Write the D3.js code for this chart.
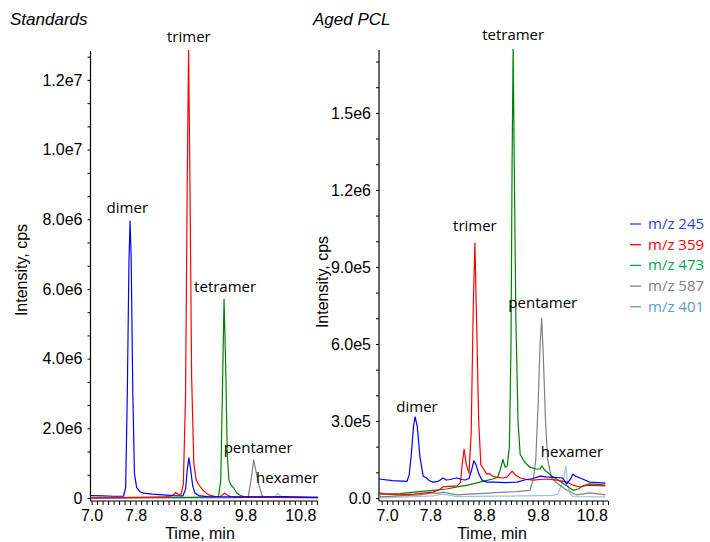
<!DOCTYPE html>
<html>
<head>
<meta charset="utf-8">
<script src="https://cdn.jsdelivr.net/npm/d3@7"></script>
<style>
  html, body { margin: 0; padding: 0; background: #fff; }
  svg { display: block; }
  .tick text { font-family: "Liberation Sans", Arial, sans-serif; font-size: 16px; fill: #000; }
</style>
</head>
<body>
<svg id="chart" width="710" height="542"></svg>
<script>
// ---- Extracted-ion chromatograms: retention time (min) vs intensity (cps) ----

const seriesNames = ["m/z 245", "m/z 359", "m/z 473", "m/z 587", "m/z 401"];
const lineColors  = ["#0000ff", "#ff0000", "#008000", "#808080", "#9dc3e6"];
const legendColors = ["#1f45d2", "#ff0000", "#00a650", "#7f7f7f", "#5b9bd5"];

const timeTicks = [7.0, 7.8, 8.8, 9.8, 10.8];

// Standards panel (intensity in cps)
const stdTicks = [0, 2e6, 4e6, 6e6, 8e6, 1e7, 1.2e7];
const stdTickLabels = ["0", "2.0e6", "4.0e6", "6.0e6", "8.0e6", "1.0e7", "1.2e7"];

const std245 = [[6.98,0.07e6],[7.2,0.06e6],[7.4,0.05e6],[7.58,0.05e6],[7.62,0.3e6],[7.65,3.0e6],[7.68,6.8e6],[7.70,7.95e6],[7.72,6.9e6],[7.75,3.0e6],[7.78,0.7e6],[7.82,0.3e6],[7.88,0.18e6],[7.95,0.14e6],[8.1,0.11e6],[8.3,0.09e6],[8.5,0.07e6],[8.66,0.06e6],[8.71,0.25e6],[8.74,0.8e6],[8.77,1.15e6],[8.80,0.85e6],[8.84,0.35e6],[8.88,0.14e6],[8.95,0.07e6],[9.1,0.04e6],[9.5,0.03e6],[10.0,0.03e6],[10.5,0.04e6],[10.7,0.03e6],[11.12,0.02e6]];
const std359 = [[6.98,0.0],[7.5,0.01e6],[8.0,0.02e6],[8.4,0.03e6],[8.48,0.08e6],[8.53,0.16e6],[8.58,0.1e6],[8.63,0.12e6],[8.67,0.4e6],[8.71,3.0e6],[8.74,9.0e6],[8.765,12.9e6],[8.79,9.0e6],[8.82,3.5e6],[8.86,1.0e6],[8.90,0.55e6],[8.93,0.43e6],[9.02,0.23e6],[9.13,0.09e6],[9.25,0.04e6],[9.35,0.05e6],[9.42,0.14e6],[9.48,0.07e6],[9.56,0.03e6],[10.0,0.02e6],[10.5,0.02e6],[11.12,0.02e6]];
const std473 = [[6.98,0.0],[7.5,0.01e6],[8.0,0.02e6],[8.8,0.02e6],[9.2,0.03e6],[9.31,0.05e6],[9.35,0.5e6],[9.38,3.0e6],[9.41,5.71e6],[9.44,3.8e6],[9.47,1.2e6],[9.50,0.5e6],[9.54,0.36e6],[9.58,0.3e6],[9.64,0.15e6],[9.70,0.08e6],[9.8,0.03e6],[10.2,0.02e6],[11.12,0.01e6]];
const std587 = [[6.98,0.005e6],[9.6,0.01e6],[9.85,0.02e6],[9.90,0.5e6],[9.95,1.09e6],[10.0,0.7e6],[10.05,0.35e6],[10.10,0.08e6],[10.14,0.02e6],[11.12,0.01e6]];
const std401 = [[6.98,0.01e6],[9.5,0.01e6],[10.33,0.02e6],[10.37,0.1e6],[10.39,0.13e6],[10.42,0.08e6],[10.46,0.02e6],[11.12,0.01e6]];

// Aged PCL panel (intensity in cps)
const agedTicks = [0, 3e5, 6e5, 9e5, 1.2e6, 1.5e6];
const agedTickLabels = ["0.0", "3.0e5", "6.0e5", "9.0e5", "1.2e6", "1.5e6"];

const aged245 = [[6.85,0.74e5],[7.1,0.68e5],[7.37,0.65e5],[7.41,0.9e5],[7.45,1.7e5],[7.49,2.8e5],[7.52,3.16e5],[7.56,2.8e5],[7.61,1.6e5],[7.67,0.85e5],[7.72,0.8e5],[7.78,0.68e5],[7.85,0.62e5],[7.95,0.65e5],[8.04,0.78e5],[8.10,0.7e5],[8.17,0.72e5],[8.24,0.76e5],[8.30,0.78e5],[8.38,0.72e5],[8.45,0.7e5],[8.52,0.76e5],[8.57,1.1e5],[8.61,1.45e5],[8.65,1.3e5],[8.70,0.95e5],[8.76,0.7e5],[8.85,0.62e5],[9.0,0.62e5],[9.2,0.6e5],[9.41,0.62e5],[9.55,0.7e5],[9.71,0.76e5],[9.84,0.85e5],[9.95,0.82e5],[10.1,0.8e5],[10.26,0.78e5],[10.33,0.55e5],[10.40,0.72e5],[10.45,0.93e5],[10.50,0.85e5],[10.58,0.78e5],[10.65,0.72e5],[10.76,0.62e5],[11.05,0.58e5]];
const aged359 = [[6.85,0.2e5],[7.0,0.15e5],[7.24,0.12e5],[7.5,0.15e5],[7.85,0.23e5],[7.95,0.3e5],[8.04,0.43e5],[8.15,0.45e5],[8.30,0.47e5],[8.36,0.6e5],[8.40,1.4e5],[8.43,1.9e5],[8.47,1.3e5],[8.52,0.97e5],[8.56,2.5e5],[8.60,7.5e5],[8.63,9.93e5],[8.66,7.0e5],[8.70,3.0e5],[8.74,1.3e5],[8.80,1.1e5],[8.85,0.93e5],[8.90,0.95e5],[8.96,0.85e5],[9.05,0.8e5],[9.15,0.78e5],[9.22,0.8e5],[9.28,0.95e5],[9.32,1.05e5],[9.38,0.9e5],[9.47,0.78e5],[9.6,0.72e5],[9.71,0.7e5],[9.84,0.72e5],[9.97,0.74e5],[10.15,0.7e5],[10.34,0.62e5],[10.45,0.5e5],[10.58,0.43e5],[10.68,0.48e5],[10.76,0.5e5],[11.05,0.47e5]];
const aged473 = [[6.85,0.15e5],[7.24,0.17e5],[7.6,0.25e5],[7.85,0.3e5],[8.1,0.35e5],[8.30,0.43e5],[8.5,0.5e5],[8.65,0.58e5],[8.8,0.66e5],[8.96,0.74e5],[9.05,0.8e5],[9.10,1.1e5],[9.15,1.5e5],[9.19,1.2e5],[9.23,1.25e5],[9.27,2.0e5],[9.30,6.0e5],[9.32,13.0e5],[9.34,17.6e5],[9.36,13.0e5],[9.39,7.0e5],[9.43,3.0e5],[9.47,1.7e5],[9.55,1.4e5],[9.65,1.2e5],[9.76,1.13e5],[9.84,1.13e5],[9.87,1.25e5],[9.92,1.1e5],[10.08,0.82e5],[10.26,0.58e5],[10.45,0.3e5],[10.55,0.35e5],[10.63,0.47e5],[10.76,0.55e5],[11.05,0.5e5]];
const aged587 = [[6.85,0.04e5],[7.24,0.08e5],[7.6,0.12e5],[7.85,0.2e5],[7.95,0.18e5],[8.04,0.23e5],[8.1,0.2e5],[8.3,0.12e5],[8.5,0.15e5],[8.8,0.18e5],[9.1,0.22e5],[9.4,0.25e5],[9.65,0.3e5],[9.71,0.7e5],[9.76,1.5e5],[9.80,3.5e5],[9.84,6.0e5],[9.87,7.0e5],[9.90,5.5e5],[9.94,3.0e5],[9.98,1.5e5],[10.05,0.8e5],[10.15,0.58e5],[10.34,0.3e5],[10.52,0.12e5],[10.76,0.2e5],[11.05,0.12e5]];
const aged401 = [[6.85,0.0],[7.24,0.03e5],[7.85,0.08e5],[8.04,0.15e5],[8.3,0.05e5],[8.6,0.06e5],[9.0,0.07e5],[9.5,0.08e5],[10.08,0.1e5],[10.17,0.15e5],[10.22,0.43e5],[10.28,0.8e5],[10.32,1.25e5],[10.35,0.5e5],[10.40,0.15e5],[10.45,0.05e5],[11.05,0.04e5]];

// Peak annotations: [label, time, intensity at label baseline]
const stdPeakLabels = [["dimer",7.65,8.18e6],["trimer",8.77,13.09e6],["tetramer",9.43,5.91e6],["pentamer",10.03,1.29e6],["hexamer",10.56,0.43e6]];
const agedPeakLabels = [["dimer",7.555,3.35e5],["trimer",8.63,10.4e5],["tetramer",9.34,17.84e5],["pentamer",9.89,7.4e5],["hexamer",10.43,1.6e5]];

const svg = d3.select("#chart");

function drawPanel(cfg) {
  const x = d3.scaleLinear().domain(cfg.xDomain).range(cfg.xRange);
  const y = d3.scaleLinear().domain(cfg.yDomain).range(cfg.yRange);
  const g = svg.append("g");

  const clipId = cfg.id + "-clip";
  svg.append("clipPath").attr("id", clipId)
    .append("rect")
    .attr("x", cfg.xRange[0]).attr("y", cfg.yRange[1] - 1)
    .attr("width", cfg.xRange[1] - cfg.xRange[0])
    .attr("height", cfg.yRange[0] - cfg.yRange[1] + 6);

  const axisY = cfg.yRange[0] + 3;

  // x axis: minor ticks every 0.1 min, labelled ticks
  const minor = d3.range(Math.ceil(cfg.xDomain[0] * 10), Math.floor(cfg.xDomain[1] * 10) + 1).map(d => d / 10);
  g.append("g").attr("transform", `translate(0,${axisY})`)
    .call(d3.axisBottom(x).tickValues(minor).tickSize(4).tickFormat(""))
    .call(a => a.select(".domain").attr("stroke", "#000").attr("stroke-width", 1.2).attr("d", `M${cfg.xRange[0]},0H${cfg.xRange[1]}`))
    .call(a => a.selectAll(".tick line").attr("stroke", "#000"));
  g.append("g").attr("transform", `translate(0,${axisY})`)
    .call(d3.axisBottom(x).tickValues(timeTicks).tickSize(0).tickPadding(9).tickFormat(d3.format(".1f")))
    .call(a => a.select(".domain").remove());

  // y axis: labelled ticks with three subdivisions each
  const step = cfg.yTicks[1] - cfg.yTicks[0];
  const yMinor = d3.range(0, cfg.yDomain[1], step / 3);
  g.append("g").attr("transform", `translate(${cfg.xRange[0]},0)`)
    .call(d3.axisLeft(y).tickValues(yMinor).tickSize(3).tickFormat(""))
    .call(a => a.select(".domain").attr("stroke", "#000").attr("stroke-width", 1.2).attr("d", `M0,${cfg.yRange[1]}V${axisY}`))
    .call(a => a.selectAll(".tick line").attr("stroke", "#000"));
  g.append("g").attr("transform", `translate(${cfg.xRange[0]},0)`)
    .call(d3.axisLeft(y).tickValues(cfg.yTicks).tickSize(0).tickPadding(8)
      .tickFormat((d, i) => cfg.yLabels[i]))
    .call(a => a.select(".domain").remove());

  // traces, drawn back to front
  const line = d3.line().x(d => x(d[0])).y(d => y(d[1]));
  const traces = g.append("g").attr("clip-path", `url(#${clipId})`);
  cfg.order.forEach(i => {
    traces.append("path")
      .datum(cfg.series[i])
      .attr("fill", "none")
      .attr("stroke", lineColors[i])
      .attr("stroke-width", 1.2)
      .attr("stroke-linejoin", "round")
      .attr("d", line);
  });

  // peak labels
  g.selectAll("text.peak").data(cfg.peaks).join("text")
    .attr("class", "peak")
    .attr("x", d => x(d[1])).attr("y", d => y(d[2]))
    .attr("text-anchor", "middle")
    .style("font-family", "'Open Sans', 'Noto Sans', sans-serif")
    .style("font-size", "15px")
    .attr("fill", "#000")
    .text(d => d[0]);

  // axis titles
  g.append("text")
    .attr("transform", `translate(${cfg.yTitleX},${cfg.yTitleY}) rotate(-90)`)
    .attr("text-anchor", "middle")
    .style("font-family", "'Liberation Sans', Arial, sans-serif").style("font-size", "16px")
    .text("Intensity, cps");
  g.append("text")
    .attr("x", cfg.xTitleX).attr("y", 539)
    .attr("text-anchor", "middle")
    .style("font-family", "'Liberation Sans', Arial, sans-serif").style("font-size", "16px")
    .text("Time, min");

  // panel title
  svg.append("text")
    .attr("x", cfg.titleX).attr("y", 25)
    .style("font-family", "'Liberation Sans', Arial, sans-serif").style("font-size", "17px")
    .style("font-style", "italic")
    .text(cfg.title);
}

drawPanel({
  id: "std", title: "Standards", titleX: 10,
  xDomain: [6.98, 11.12], xRange: [90.5, 318],
  yDomain: [0, 12.83e6], yRange: [498, 51],
  yTicks: stdTicks, yLabels: stdTickLabels,
  series: [std245, std359, std473, std587, std401],
  order: [4, 3, 2, 1, 0],
  peaks: stdPeakLabels,
  yTitleX: 27, yTitleY: 270, xTitleX: 200
});

drawPanel({
  id: "aged", title: "Aged PCL", titleX: 313,
  xDomain: [6.85, 11.1], xRange: [379, 608],
  yDomain: [0, 17.45e5], yRange: [498, 50],
  yTicks: agedTicks, yLabels: agedTickLabels,
  series: [aged245, aged359, aged473, aged587, aged401],
  order: [4, 3, 2, 1, 0],
  peaks: agedPeakLabels,
  yTitleX: 328, yTitleY: 282, xTitleX: 492
});

// legend
const legend = svg.append("g").attr("transform", "translate(630,224)");
const rows = legend.selectAll("g").data(seriesNames).join("g")
  .attr("transform", (d, i) => `translate(0,${i * 20.7})`);
rows.append("line").attr("x1", 0).attr("x2", 11).attr("y1", 0).attr("y2", 0)
  .attr("stroke", (d, i) => legendColors[i]).attr("stroke-width", 1.3);
rows.append("text").attr("x", 18).attr("y", 5)
  .style("font-family", "'Open Sans', 'Noto Sans', sans-serif").style("font-size", "15px")
  .attr("fill", (d, i) => legendColors[i])
  .text(d => d);
</script>
</body>
</html>
